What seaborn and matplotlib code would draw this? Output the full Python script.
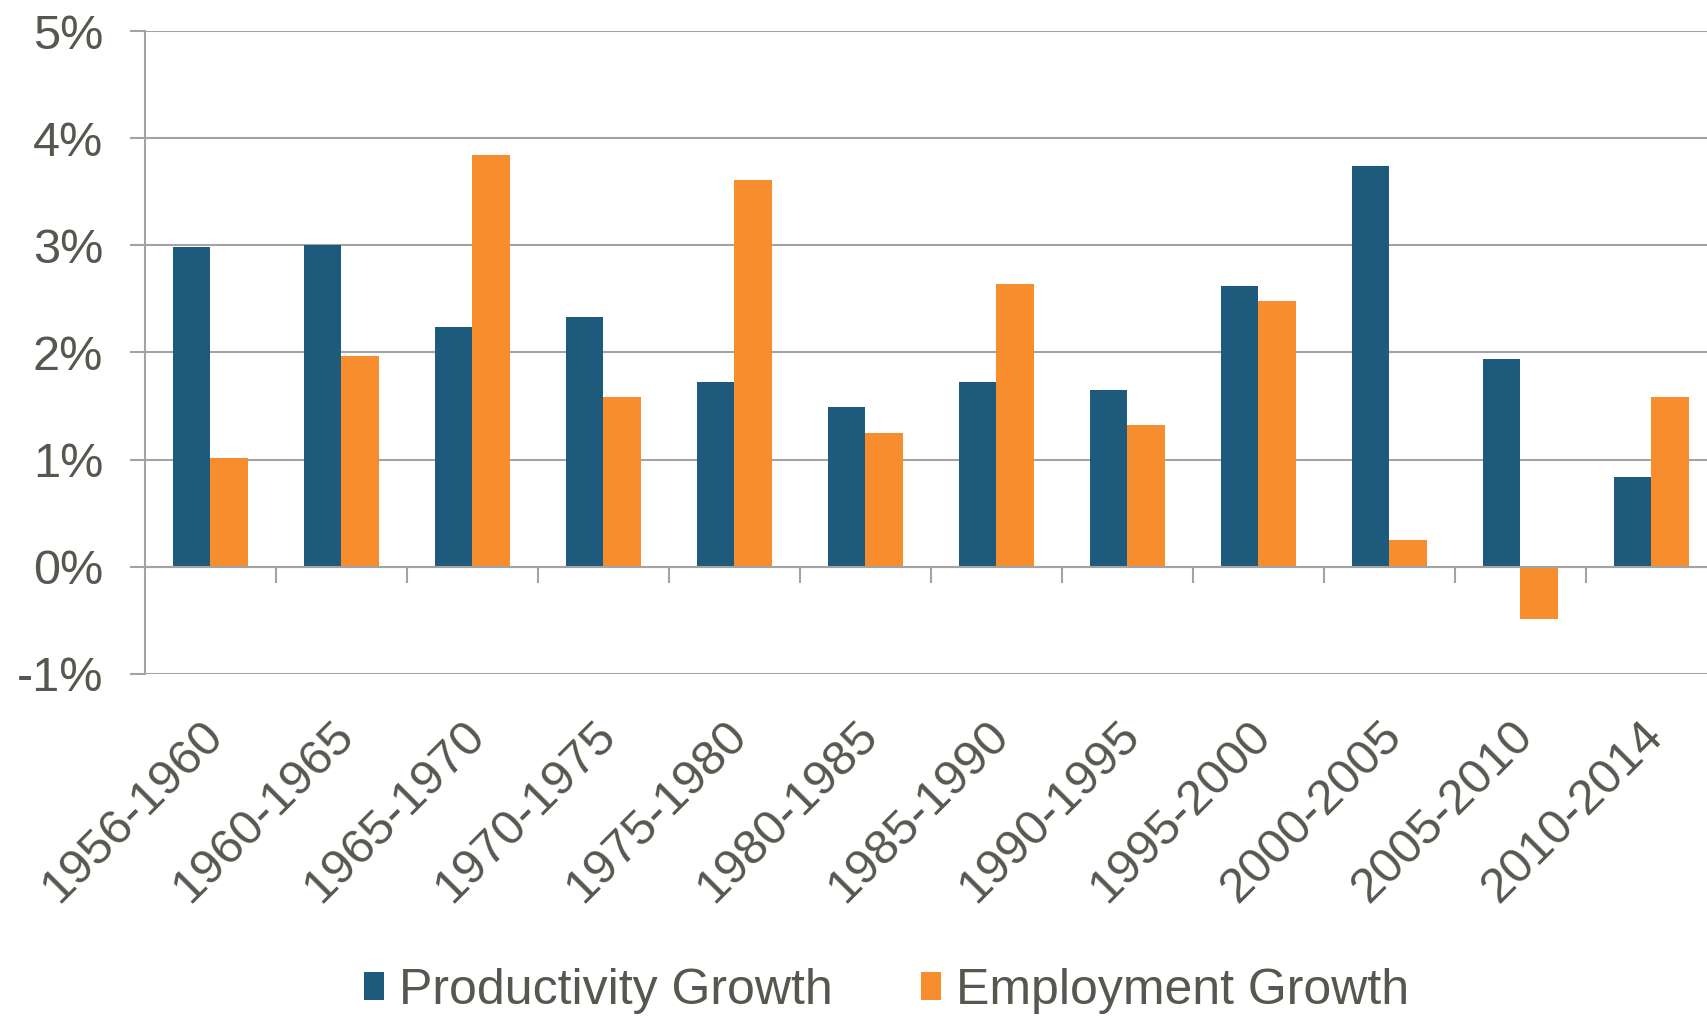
import matplotlib
matplotlib.use("Agg")
import matplotlib.pyplot as plt
import matplotlib.transforms as mtransforms
import seaborn as sns
import pandas as pd

periods = ["1956-1960", "1960-1965", "1965-1970", "1970-1975", "1975-1980", "1980-1985",
           "1985-1990", "1990-1995", "1995-2000", "2000-2005", "2005-2010", "2010-2014"]
productivity = [2.98, 3.00, 2.24, 2.33, 1.72, 1.49, 1.72, 1.65, 2.62, 3.74, 1.94, 0.84]
employment = [1.02, 1.97, 3.84, 1.58, 3.61, 1.25, 2.64, 1.32, 2.48, 0.25, -0.49, 1.58]
series_names = ["Productivity Growth", "Employment Growth"]
colors = ["#1D5A7B", "#F78D2D"]
y_ticks = [-1, 0, 1, 2, 3, 4, 5]

df = pd.DataFrame({
    "Period": periods * 2,
    "Value": productivity + employment,
    "Series": [series_names[0]] * len(periods) + [series_names[1]] * len(periods),
})

sns.set_style("white")
plt.rcParams["font.family"] = ["Liberation Sans", "DejaVu Sans"]

text_color = "#57564F"
grid_color = "#A3A3A3"

fig = plt.figure(figsize=(17.08, 10.17), dpi=100)
ax = fig.add_axes([145 / 1708, 0.3373, 1572 / 1708, 0.6322])

sns.barplot(data=df, x="Period", y="Value", hue="Series", order=periods,
            hue_order=series_names, palette=colors, width=0.57, gap=0,
            saturation=1, linewidth=0, ax=ax, legend=True)

ax.set_xlim(-0.5, len(periods) - 0.5)
ax.set_ylim(-1, 5)
ax.set_yticks(y_ticks)
ax.set_yticklabels([f"{v}%" for v in y_ticks])
ax.set_xlabel("")
ax.set_ylabel("")

ax.yaxis.grid(True, color=grid_color, linewidth=1.5)
ax.set_axisbelow(True)
ax.tick_params(axis="y", direction="out", length=11, width=1.5, color=grid_color,
               labelsize=35, labelcolor=text_color, pad=19, left=True)

for s in ["top", "right"]:
    ax.spines[s].set_visible(False)
ax.spines["left"].set_color(grid_color)
ax.spines["left"].set_linewidth(1.5)
ax.spines["bottom"].set_position(("data", 0))
ax.spines["bottom"].set_color(grid_color)
ax.spines["bottom"].set_linewidth(1.5)
ax.spines["bottom"].set_zorder(3)

# category boundary ticks on the zero line
ax.set_xticks([i + 0.5 for i in range(len(periods) - 1)], minor=True)
ax.tick_params(axis="x", which="minor", direction="out", length=11.5, width=1.5,
               color=grid_color, bottom=True)
ax.tick_params(axis="x", which="major", length=0, pad=105, labelsize=35.5,
               labelcolor=text_color, bottom=True)
offset = mtransforms.ScaledTranslation(21 / 100, 0, fig.dpi_scale_trans)
for lab in ax.get_xticklabels():
    lab.set_rotation(45)
    lab.set_ha("right")
    lab.set_va("top")
    lab.set_transform(lab.get_transform() + offset)

handles, labels = ax.get_legend_handles_labels()
ax.get_legend().remove()
leg = fig.legend(handles, labels, loc="center", bbox_to_anchor=(0.519, 0.026),
                 bbox_transform=fig.transFigure, ncol=2, frameon=False,
                 fontsize=36, handlelength=0.4, handleheight=0.5,
                 handletextpad=0.3, columnspacing=1.75)
for t in leg.get_texts():
    t.set_color(text_color)

fig.savefig("out.png", dpi=100)
